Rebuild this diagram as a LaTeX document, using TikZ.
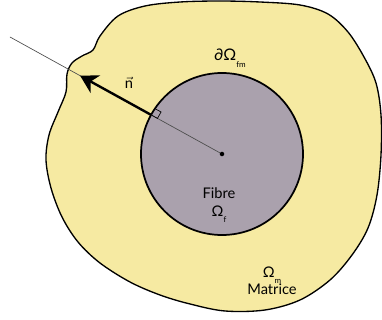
\documentclass[tikz,border=0pt]{standalone}
\usepackage{amsmath}
\usepackage{fontspec}
\setmainfont{Lato}
\usetikzlibrary{arrows.meta,calc}
\definecolor{matrice}{RGB}{246,234,162}
\definecolor{fibre}{RGB}{170,161,173}
\newcommand{\indice}[1]{\raisebox{-0.8ex}{\fontsize{6}{6}\selectfont #1}}

\begin{document}
\begin{tikzpicture}[x=0.75pt,y=-0.75pt,font=\fontsize{11}{13}\selectfont,
  lbl/.style={inner sep=0pt,align=center},
  normale/.style={-{Stealth[length=13pt,width=15pt,inset=4pt]},line width=1.8pt}]
  \useasboundingbox (0,0) rectangle (382,320);
  % matrice
  \draw[line width=1pt,fill=matrice] plot[smooth cycle,tension=0.55] coordinates{(100,36) (118,16) (145,6) (180,2) (220,1) (260,2) (300,5) (328,14) (348,32) (364,57) (376,83) (381,115) (381,155) (377,195) (368,228) (352,255) (330,280) (300,300) (265,310) (225,311) (190,304) (160,295) (130,282) (100,263) (78,242) (62,217) (51,188) (46,160) (49,135) (58,112) (66,92) (67,74) (72,63) (82,56) (93,50)};
  % fibre
  \coordinate (c) at (222,154); \coordinate (far) at (10,37);
  \draw[line width=1.3pt,fill=fibre] (c) circle (81);
  \coordinate (e) at ($(c)!60.75pt!(far)$); \coordinate (tip) at ($(c)!121.5pt!(far)$);
  \node[circle,fill,inner sep=1.2pt] (dot) at (c) {};
  \draw[gray!60!black,line width=0.5pt] (far) -- (dot);
  \draw[line width=0.5pt] (e) -- ++(-28.9:5.5pt) -- ++(61.1:5.5pt) -- ++(151.1:5.5pt);
  \draw[normale] (e) -- (tip);
  \node[lbl] (n) at (129,83) {$\vec{\text{n}}$};
  \node[lbl] (bord) at (230,58) {\fontsize{12}{13}\selectfont ∂Ω\indice{fm}};
  \node[lbl] (fib) at (219,205) {Fibre\\Ω\indice{f}};
  \node[lbl] (mat) at (272,281) {Ω\indice{m}\\Matrice};
\end{tikzpicture}
\end{document}
